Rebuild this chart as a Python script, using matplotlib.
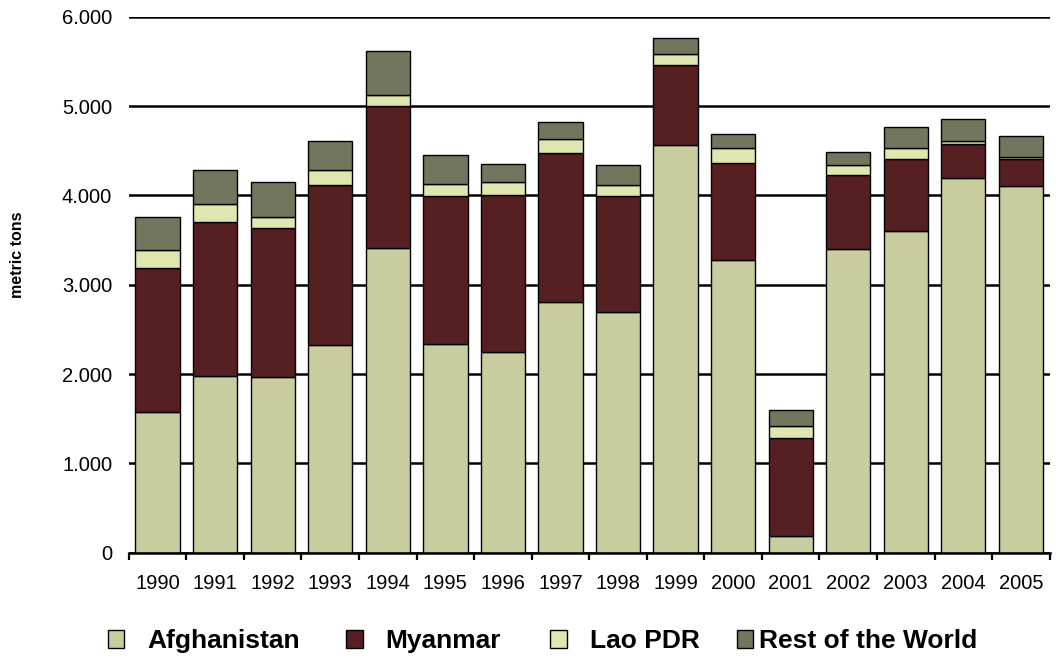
import matplotlib
matplotlib.use('Agg')
import matplotlib.pyplot as plt
from matplotlib.ticker import FuncFormatter
import numpy as np

plt.rcParams['font.family'] = ['Liberation Sans', 'DejaVu Sans']

years = ['1990', '1991', '1992', '1993', '1994', '1995', '1996', '1997',
         '1998', '1999', '2000', '2001', '2002', '2003', '2004', '2005']
afghanistan = [1570, 1980, 1970, 2330, 3416, 2335, 2248, 2804,
               2693, 4565, 3276, 185, 3400, 3600, 4200, 4100]
myanmar = [1621, 1728, 1660, 1791, 1583, 1664, 1760, 1676,
           1303, 895, 1087, 1097, 828, 810, 370, 312]
lao_pdr = [202, 196, 127, 169, 120, 128, 140, 147,
           124, 124, 167, 134, 112, 120, 43, 14]
rest_of_world = [367, 375, 391, 320, 501, 325, 208, 196,
                 226, 180, 161, 180, 151, 235, 237, 244]

series = [
    ('Afghanistan', afghanistan, '#c8cc9e'),
    ('Myanmar', myanmar, '#561f22'),
    ('Lao PDR', lao_pdr, '#e1e6b0'),
    ('Rest of the World', rest_of_world, '#72765c'),
]

fig = plt.figure(figsize=(10.56, 6.7), dpi=100)
ax = fig.add_axes([0.122, 0.175, 0.872, 0.80])

x = np.arange(len(years))
bottom = np.zeros(len(years))
for name, vals, col in series:
    ax.bar(x, vals, bottom=bottom, width=0.77, color=col,
           edgecolor='black', linewidth=1.0, label=name, zorder=3)
    bottom += np.array(vals)

ax.set_ylim(0, 6000)
ax.set_xlim(-0.5, len(years) - 0.5)
ax.set_yticks(range(0, 6001, 1000))
ax.yaxis.set_major_formatter(FuncFormatter(lambda v, p: '{:,.0f}'.format(v).replace(',', '.')))
ax.yaxis.grid(True, color='black', linewidth=1.8, zorder=0)
ax.tick_params(axis='y', length=0, labelsize=14.5, pad=12)

ax.set_xticks(x)
ax.set_xticklabels(years)
ax.set_xticks(np.arange(-0.5, len(years), 1.0), minor=True)
ax.tick_params(axis='x', which='major', length=0, labelsize=14.5, pad=15)
ax.tick_params(axis='x', which='minor', length=5, width=1.6, direction='out')

for s in ['left', 'right', 'top']:
    ax.spines[s].set_visible(False)
ax.spines['bottom'].set_linewidth(1.8)
ax.spines['bottom'].set_zorder(4)

ax.set_ylabel('metric tons', fontsize=11.5, fontweight='bold')
ax.yaxis.set_label_coords(-0.113, 0.556)

# legend entries placed one by one, as in the original layout
handles, labels = ax.get_legend_handles_labels()
leg_x = [0.102, 0.328, 0.521, 0.698]
text_pad = [0.87, 0.87, 0.9, 0.22]
for h, lab, lx, tp in zip(handles, labels, leg_x, text_pad):
    lg = fig.legend([h], [lab], loc='center left', bbox_to_anchor=(lx, 0.043),
                    frameon=False, prop={'size': 19, 'weight': 'bold'},
                    handlelength=0.62, handleheight=0.64, handletextpad=tp,
                    borderaxespad=0, borderpad=0)

fig.savefig('out.png', dpi=100)
